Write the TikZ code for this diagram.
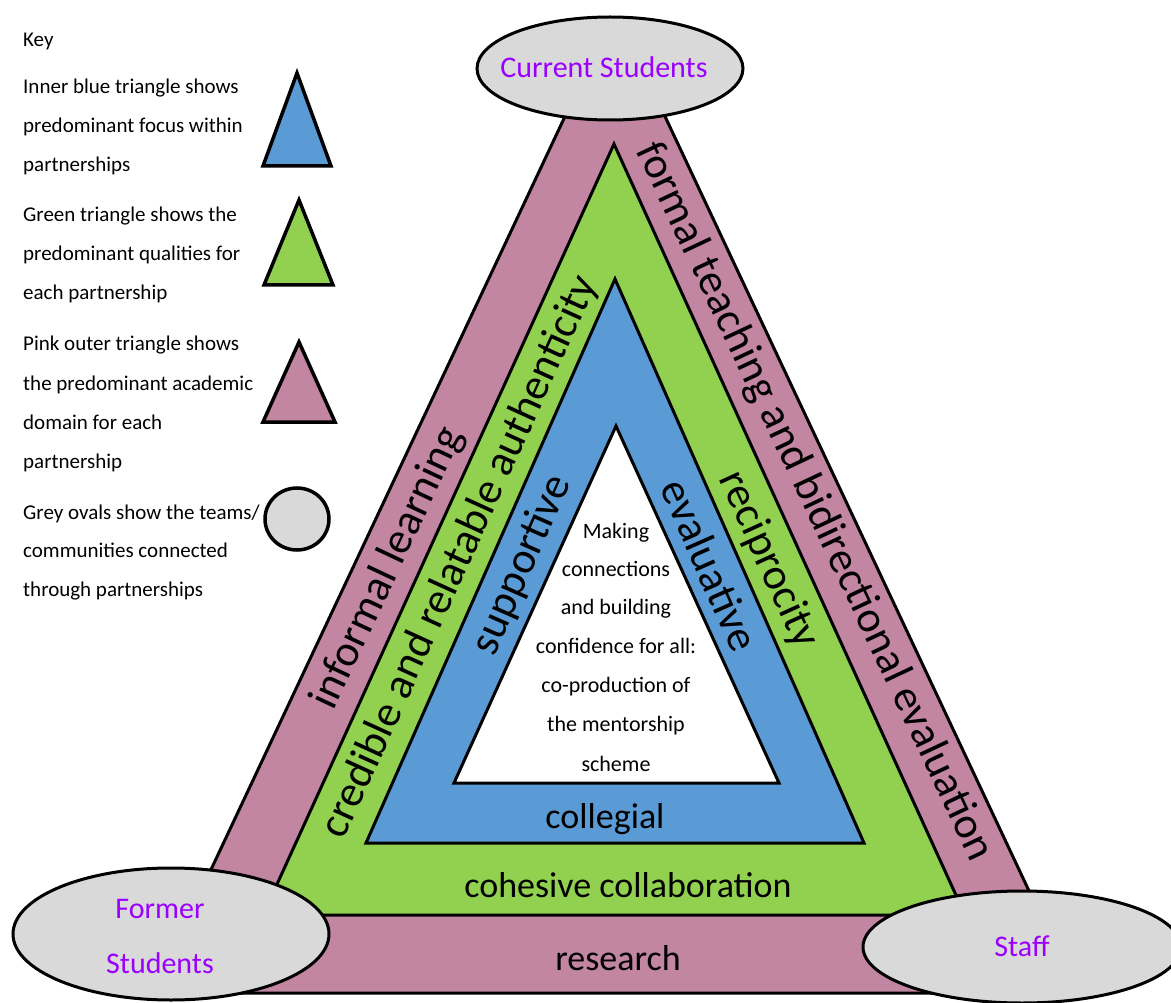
\documentclass[tikz,border=0pt]{standalone}
\usepackage{fontspec}
\setmainfont{Carlito}
\usetikzlibrary{shapes.geometric}
\definecolor{pinkc}{RGB}{194,133,162}
\definecolor{greenc}{RGB}{146,208,80}
\definecolor{bluec}{RGB}{91,155,213}
\definecolor{greyc}{RGB}{217,217,217}
\definecolor{purplec}{RGB}{155,0,255}
\begin{document}
\begin{tikzpicture}[x=1pt,y=-1pt,
  band/.style={draw=black,line width=3pt,line join=miter},
  keytri/.style={draw=black,line width=3.5pt,line join=miter},
  oval/.style={ellipse,draw=black,fill=greyc,line width=3pt,inner sep=0pt},
  keytxt/.style={anchor=base west,inner sep=0pt,font=\fontsize{21}{21}\selectfont},
  side/.style={inner sep=0pt,font=\fontsize{44}{44}\selectfont},
  bottom/.style={anchor=base,inner sep=0pt,font=\fontsize{36}{36}\selectfont},
  ctr/.style={anchor=base,inner sep=0pt,font=\fontsize{22}{22}\selectfont},
  ovtxt/.style={anchor=base,inner sep=0pt,text=purplec,font=\fontsize{30}{30}\selectfont}]
\useasboundingbox (0,0) rectangle (1171,1003);
% main triangles
\filldraw[band,fill=pinkc] (153,993) -- (591.5,60) -- (638.5,60) -- (1077,993) -- cycle;
\filldraw[band,fill=greenc] (263,915) -- (614,144) -- (965,915) -- cycle;
\filldraw[band,fill=bluec] (366,843) -- (615,279) -- (864,843) -- cycle;
\filldraw[band,fill=white] (454,783) -- (616,426) -- (779,783) -- cycle;
% ovals
\node[oval,minimum width=266pt,minimum height=103pt] (cur) at (610,68.5) {};
\node[oval,minimum width=316pt,minimum height=132pt] (former) at (171,934) {};
\node[oval,minimum width=318pt,minimum height=112pt] (staff) at (1022,947) {};
\node[ovtxt] (curT) at (604,78) {Current Students};
\node[ovtxt] (formerT1) at (160,918) {Former};
\node[ovtxt] (formerT2) at (160,973) {Students};
\node[ovtxt] (staffT) at (1022,956) {Staff};
% side labels
\node[side,rotate=64.8] (informal) at (388,568) {informal learning};
\node[side,rotate=65.5] (credible) at (460,557) {credible and relatable authenticity};
\node[side,rotate=66.2] (supp) at (522,565) {supportive};
\node[side,rotate=-66.2] (eval) at (710,565) {evaluative};
\node[side,rotate=-65.5] (recip) at (768,560) {reciprocity};
\node[side,rotate=-64.8] (formal) at (814,502) {formal teaching and bidirectional evaluation};
% bottom labels
\node[bottom] (collegial) at (605,828) {collegial};
\node[bottom] (cohesive) at (628,897) {cohesive collaboration};
\node[bottom] (research) at (618,970) {research};
% centre text
\node[ctr] (c1) at (616,538) {Making};
\node[ctr] (c2) at (616,576) {connections};
\node[ctr] (c3) at (616,614) {and building};
\node[ctr] (c4) at (616,653) {confidence for all:};
\node[ctr] (c5) at (616,692) {co-production of};
\node[ctr] (c6) at (616,731) {the mentorship};
\node[ctr] (c7) at (616,771) {scheme};
% key
\node[keytxt] (k0) at (23,47) {Key};
\node[keytxt] (k1) at (23,94) {Inner blue triangle shows};
\node[keytxt] (k2) at (23,133) {predominant focus within};
\node[keytxt] (k3) at (23,172) {partnerships};
\node[keytxt] (k4) at (23,222) {Green triangle shows the};
\node[keytxt] (k5) at (23,261) {predominant qualities for};
\node[keytxt] (k6) at (23,300) {each partnership};
\node[keytxt] (k7) at (23,351) {Pink outer triangle shows};
\node[keytxt] (k8) at (23,390) {the predominant academic};
\node[keytxt] (k9) at (23,429) {domain for each};
\node[keytxt] (k10) at (23,468) {partnership};
\node[keytxt] (k11) at (23,519) {Grey ovals show the teams/};
\node[keytxt] (k12) at (23,557) {communities connected};
\node[keytxt] (k13) at (23,596) {through partnerships};
\filldraw[keytri,fill=bluec] (263,166) -- (297,73) -- (331,166) -- cycle;
\filldraw[keytri,fill=greenc] (264,285) -- (299,200) -- (333,285) -- cycle;
\filldraw[keytri,fill=pinkc] (263,422) -- (299,342) -- (335,422) -- cycle;
\node[oval,minimum width=64pt,minimum height=62pt,line width=3.5pt] (keyoval) at (297,519) {};
\end{tikzpicture}
\end{document}
